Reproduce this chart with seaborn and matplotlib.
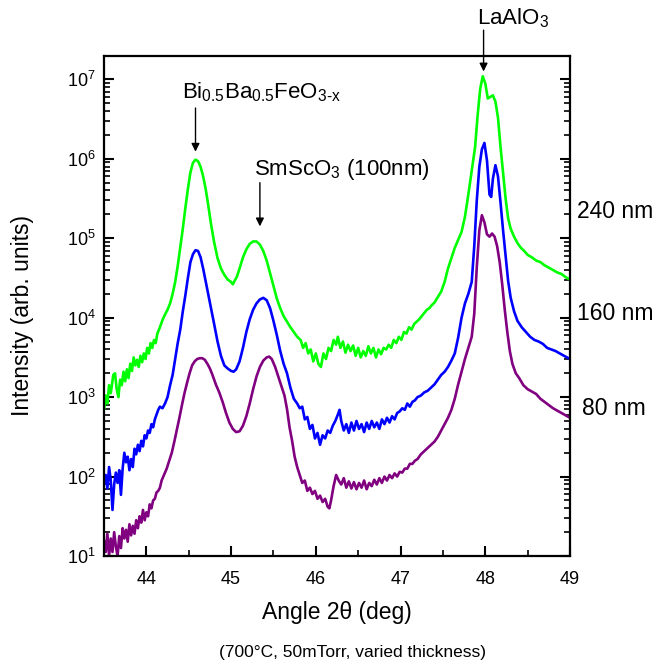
import numpy as np
import pandas as pd
import matplotlib
matplotlib.use("Agg")
import matplotlib.pyplot as plt
import seaborn as sns
from matplotlib.ticker import MultipleLocator, LogLocator

# ---------------- data (intensities given as log10) ----
x_240 = [43.50, 43.52, 43.54, 43.56, 43.58, 43.61, 43.63, 43.65, 43.67, 43.69, 43.71, 43.73, 43.75, 43.77,
         43.79, 43.81, 43.83, 43.85, 43.87, 43.89, 43.91, 43.93, 43.95, 43.97, 43.99, 44.01, 44.03, 44.05,
         44.07, 44.09, 44.11, 44.13, 44.16, 44.19, 44.22, 44.25, 44.28, 44.31, 44.34, 44.37, 44.40, 44.43,
         44.46, 44.49, 44.52, 44.55, 44.58, 44.61, 44.64, 44.67, 44.70, 44.73, 44.76, 44.80, 44.84, 44.88,
         44.92, 44.96, 45.00, 45.02, 45.04, 45.07, 45.10, 45.14, 45.18, 45.22, 45.26, 45.30, 45.34, 45.38,
         45.42, 45.46, 45.50, 45.54, 45.58, 45.62, 45.66, 45.70, 45.74, 45.78, 45.82, 45.85, 45.88, 45.91,
         45.94, 45.97, 46.00, 46.03, 46.06, 46.09, 46.12, 46.15, 46.18, 46.21, 46.24, 46.26, 46.29, 46.32,
         46.35, 46.38, 46.41, 46.44, 46.47, 46.50, 46.53, 46.56, 46.59, 46.62, 46.65, 46.68, 46.71, 46.74,
         46.77, 46.80, 46.83, 46.86, 46.89, 46.92, 46.95, 46.98, 47.01, 47.04, 47.07, 47.10, 47.13, 47.16,
         47.19, 47.22, 47.25, 47.28, 47.31, 47.34, 47.37, 47.40, 47.44, 47.48, 47.52, 47.56, 47.60, 47.64,
         47.68, 47.72, 47.76, 47.80, 47.84, 47.88, 47.91, 47.94, 47.97, 48.00, 48.03, 48.06, 48.09, 48.12,
         48.15, 48.18, 48.21, 48.24, 48.27, 48.30, 48.34, 48.38, 48.42, 48.46, 48.50, 48.55, 48.60, 48.65,
         48.70, 48.75, 48.80, 48.85, 48.90, 48.95, 49.00]
log_240 = [2.84, 3.02, 2.92, 3.15, 3.05, 3.28, 3.30, 3.10, 3.00, 3.22, 3.15, 3.32, 3.20, 3.35,
           3.24, 3.42, 3.33, 3.50, 3.40, 3.47, 3.38, 3.52, 3.44, 3.55, 3.48, 3.62, 3.55, 3.68,
           3.62, 3.72, 3.68, 3.80, 3.88, 3.97, 4.04, 4.10, 4.18, 4.30, 4.45, 4.65, 4.88, 5.12,
           5.38, 5.62, 5.83, 5.95, 5.99, 5.97, 5.90, 5.78, 5.62, 5.42, 5.20, 4.95, 4.75, 4.62,
           4.54, 4.48, 4.45, 4.42, 4.46, 4.52, 4.62, 4.76, 4.86, 4.93, 4.96, 4.96, 4.92, 4.84,
           4.72, 4.56, 4.40, 4.24, 4.12, 4.02, 3.95, 3.88, 3.82, 3.76, 3.72, 3.62, 3.68, 3.55,
           3.60, 3.45, 3.55, 3.42, 3.38, 3.55, 3.48, 3.62, 3.58, 3.72, 3.66, 3.76, 3.62, 3.70,
           3.56, 3.66, 3.58, 3.65, 3.52, 3.62, 3.50, 3.58, 3.52, 3.64, 3.55, 3.62, 3.50, 3.60,
           3.54, 3.62, 3.60, 3.66, 3.62, 3.72, 3.68, 3.76, 3.72, 3.82, 3.80, 3.88, 3.85, 3.92,
           3.95, 3.98, 4.02, 4.06, 4.10, 4.12, 4.16, 4.19, 4.26, 4.33, 4.45, 4.62, 4.75, 4.88,
           4.98, 5.08, 5.27, 5.55, 5.85, 6.15, 6.55, 6.88, 7.04, 6.95, 6.76, 6.78, 6.80, 6.72,
           6.52, 6.15, 5.82, 5.50, 5.25, 5.12, 5.02, 4.94, 4.88, 4.84, 4.79, 4.76, 4.72, 4.70,
           4.66, 4.63, 4.60, 4.57, 4.55, 4.51, 4.48]

x_160 = [43.50, 43.52, 43.54, 43.56, 43.58, 43.60, 43.62, 43.64, 43.66, 43.68, 43.70, 43.72, 43.74, 43.76,
         43.78, 43.80, 43.82, 43.84, 43.86, 43.88, 43.90, 43.92, 43.94, 43.96, 43.98, 44.00, 44.02, 44.04,
         44.06, 44.08, 44.10, 44.12, 44.14, 44.16, 44.19, 44.22, 44.25, 44.28, 44.31, 44.34, 44.37, 44.40,
         44.43, 44.46, 44.49, 44.52, 44.55, 44.58, 44.61, 44.64, 44.67, 44.70, 44.73, 44.76, 44.80, 44.84,
         44.88, 44.92, 44.96, 45.00, 45.03, 45.06, 45.10, 45.14, 45.18, 45.22, 45.26, 45.30, 45.34, 45.38,
         45.42, 45.46, 45.50, 45.54, 45.58, 45.62, 45.66, 45.70, 45.74, 45.78, 45.81, 45.84, 45.87, 45.90,
         45.93, 45.96, 45.99, 46.02, 46.05, 46.08, 46.11, 46.14, 46.17, 46.20, 46.23, 46.26, 46.28, 46.30,
         46.33, 46.36, 46.39, 46.42, 46.45, 46.48, 46.51, 46.54, 46.57, 46.60, 46.63, 46.66, 46.69, 46.72,
         46.75, 46.78, 46.81, 46.84, 46.87, 46.90, 46.93, 46.96, 46.99, 47.02, 47.05, 47.08, 47.11, 47.14,
         47.17, 47.20, 47.24, 47.28, 47.32, 47.36, 47.40, 47.44, 47.48, 47.52, 47.56, 47.60, 47.64, 47.68,
         47.72, 47.76, 47.80, 47.84, 47.87, 47.90, 47.93, 47.96, 47.99, 48.02, 48.05, 48.07, 48.09, 48.12,
         48.15, 48.18, 48.21, 48.24, 48.27, 48.30, 48.34, 48.38, 48.43, 48.48, 48.53, 48.58, 48.63, 48.68,
         48.73, 48.78, 48.83, 48.88, 48.93, 49.00]
log_160 = [1.90, 2.02, 1.85, 2.12, 1.95, 1.58, 1.90, 2.05, 1.92, 2.08, 1.77, 2.10, 2.30, 2.18,
           2.25, 2.08, 2.22, 2.12, 2.35, 2.28, 2.40, 2.32, 2.45, 2.38, 2.52, 2.48, 2.58, 2.55,
           2.66, 2.62, 2.72, 2.78, 2.84, 2.88, 2.86, 2.92, 3.00, 3.15, 3.28, 3.48, 3.68, 3.85,
           4.08, 4.28, 4.50, 4.70, 4.80, 4.85, 4.84, 4.76, 4.62, 4.46, 4.30, 4.14, 3.92, 3.70,
           3.52, 3.40, 3.36, 3.33, 3.32, 3.35, 3.45, 3.62, 3.82, 3.98, 4.10, 4.18, 4.23, 4.25,
           4.22, 4.12, 3.96, 3.78, 3.58, 3.42, 3.30, 3.12, 2.98, 2.92, 2.86, 2.88, 2.72, 2.75,
           2.60, 2.65, 2.48, 2.55, 2.40, 2.52, 2.48, 2.58, 2.55, 2.64, 2.70, 2.78, 2.84, 2.70,
           2.58, 2.66, 2.55, 2.68, 2.58, 2.70, 2.60, 2.66, 2.56, 2.68, 2.60, 2.70, 2.62, 2.68,
           2.60, 2.72, 2.66, 2.74, 2.68, 2.76, 2.72, 2.80, 2.82, 2.86, 2.84, 2.92, 2.88, 2.94,
           2.96, 3.00, 3.02, 3.06, 3.08, 3.12, 3.16, 3.22, 3.28, 3.32, 3.38, 3.46, 3.55, 3.75,
           4.00, 4.18, 4.30, 4.45, 4.90, 5.48, 5.90, 6.12, 6.20, 5.98, 5.55, 5.52, 5.75, 5.92,
           5.78, 5.45, 5.10, 4.78, 4.46, 4.25, 4.08, 3.96, 3.88, 3.82, 3.76, 3.72, 3.70, 3.67,
           3.62, 3.60, 3.58, 3.55, 3.52, 3.48]

x_80 = [43.50, 43.52, 43.54, 43.56, 43.58, 43.60, 43.62, 43.64, 43.66, 43.68, 43.70, 43.72, 43.74, 43.76,
        43.78, 43.80, 43.82, 43.84, 43.86, 43.88, 43.90, 43.92, 43.94, 43.96, 43.98, 44.00, 44.02, 44.04,
        44.06, 44.08, 44.10, 44.12, 44.14, 44.16, 44.18, 44.20, 44.22, 44.24, 44.27, 44.30, 44.33, 44.36,
        44.39, 44.42, 44.45, 44.48, 44.51, 44.54, 44.57, 44.60, 44.63, 44.66, 44.69, 44.72, 44.75, 44.78,
        44.82, 44.86, 44.90, 44.94, 44.98, 45.02, 45.06, 45.10, 45.14, 45.18, 45.22, 45.26, 45.30, 45.34,
        45.38, 45.42, 45.45, 45.48, 45.52, 45.56, 45.60, 45.63, 45.66, 45.69, 45.72, 45.75, 45.78, 45.81,
        45.84, 45.87, 45.90, 45.93, 45.96, 45.99, 46.02, 46.05, 46.08, 46.11, 46.14, 46.16, 46.18, 46.21,
        46.24, 46.27, 46.30, 46.33, 46.36, 46.39, 46.42, 46.45, 46.48, 46.51, 46.54, 46.57, 46.60, 46.63,
        46.66, 46.69, 46.72, 46.75, 46.78, 46.81, 46.84, 46.87, 46.90, 46.93, 46.96, 46.99, 47.02, 47.05,
        47.08, 47.11, 47.14, 47.17, 47.20, 47.24, 47.28, 47.32, 47.36, 47.40, 47.44, 47.48, 47.52, 47.56,
        47.60, 47.64, 47.68, 47.72, 47.76, 47.80, 47.84, 47.87, 47.90, 47.93, 47.96, 47.99, 48.02, 48.05,
        48.08, 48.11, 48.14, 48.17, 48.20, 48.23, 48.26, 48.29, 48.32, 48.36, 48.40, 48.45, 48.50, 48.55,
        48.60, 48.65, 48.70, 48.75, 48.80, 48.85, 48.90, 48.95, 49.00]
log_80 = [1.20, 1.05, 1.28, 1.00, 1.22, 1.05, 1.30, 1.12, 1.00, 1.25, 1.10, 1.35, 1.22, 1.33,
          1.18, 1.40, 1.26, 1.38, 1.28, 1.45, 1.35, 1.50, 1.42, 1.58, 1.45, 1.55, 1.50, 1.65,
          1.60, 1.70, 1.72, 1.80, 1.82, 1.86, 1.95, 2.00, 2.05, 2.10, 2.20, 2.30, 2.44, 2.59,
          2.74, 2.90, 3.05, 3.18, 3.30, 3.40, 3.45, 3.48, 3.49, 3.49, 3.47, 3.42, 3.36, 3.28,
          3.16, 3.06, 2.94, 2.80, 2.68, 2.60, 2.56, 2.57, 2.64, 2.76, 2.92, 3.10, 3.26, 3.38,
          3.46, 3.50, 3.51, 3.48, 3.38, 3.25, 3.12, 3.02, 2.85, 2.62, 2.45, 2.25, 2.12, 2.02,
          1.92, 1.95, 1.82, 1.86, 1.78, 1.82, 1.72, 1.76, 1.68, 1.72, 1.62, 1.60, 1.70, 1.88,
          2.02, 1.95, 1.90, 1.98, 1.86, 1.94, 1.85, 1.93, 1.84, 1.92, 1.86, 1.95, 1.84, 1.92,
          1.88, 1.96, 1.90, 1.98, 1.92, 2.00, 1.95, 2.02, 1.98, 2.04, 2.00, 2.06, 2.05, 2.10,
          2.10, 2.16, 2.16, 2.20, 2.22, 2.28, 2.32, 2.36, 2.40, 2.44, 2.50, 2.58, 2.66, 2.74,
          2.84, 2.98, 3.16, 3.32, 3.48, 3.62, 3.76, 4.05, 4.64, 5.10, 5.29, 5.20, 5.05, 5.02,
          5.06, 5.02, 4.90, 4.70, 4.42, 4.10, 3.82, 3.58, 3.42, 3.30, 3.24, 3.15, 3.10, 3.07,
          3.04, 2.98, 2.94, 2.90, 2.86, 2.83, 2.80, 2.77, 2.74]

series_names = ["240 nm", "160 nm", "80 nm"]
series_colors = ["#00ff00", "#0000ff", "#800080"]
x_ticks = [44, 45, 46, 47, 48, 49]

# ---------------- build long table ----------------
frames = []
for name, xs, ls in zip(series_names, [x_240, x_160, x_80], [log_240, log_160, log_80]):
    frames.append(pd.DataFrame({"angle": xs, "intensity": 10.0 ** np.asarray(ls), "film": name}))
df = pd.concat(frames, ignore_index=True)

# ---------------- style ----------------
sns.set_theme(style="ticks")
plt.rcParams["font.family"] = ["Liberation Sans", "DejaVu Sans"]
plt.rcParams["mathtext.fontset"] = "custom"
plt.rcParams["mathtext.rm"] = "Liberation Sans"
plt.rcParams["mathtext.it"] = "Liberation Sans:italic"
plt.rcParams["mathtext.bf"] = "Liberation Sans:bold"

fig = plt.figure(figsize=(6.6, 6.68), dpi=100)
ax = fig.add_axes([104 / 660, 1 - 556 / 668, 466 / 660, 500.5 / 668])

sns.lineplot(data=df, x="angle", y="intensity", hue="film", palette=dict(zip(series_names, series_colors)),
             estimator=None, sort=False, linewidth=1.9, legend=False, ax=ax)

ax.set_yscale("log")
ax.set_xlim(43.5, 49)
ax.set_ylim(10, 2e7)
ax.set_xticks(x_ticks)
ax.xaxis.set_minor_locator(MultipleLocator(0.5))
ax.yaxis.set_major_locator(LogLocator(base=10, numticks=20))
ax.yaxis.set_minor_locator(LogLocator(base=10, subs=np.arange(2, 10), numticks=20))

for sp in ax.spines.values():
    sp.set_linewidth(1.6)
    sp.set_color("black")
ax.tick_params(axis="both", which="major", direction="in", length=7, width=1.5, colors="black",
               labelsize=13)
ax.tick_params(axis="x", which="major", pad=11)
ax.tick_params(axis="y", which="major", pad=6)
ax.tick_params(axis="both", which="minor", direction="in", length=4, width=1.2, colors="black")
ax.tick_params(axis="y", which="both", right=True, labelright=False)
ax.tick_params(axis="x", which="both", top=False)

ax.set_xlabel("Angle 2θ (deg)", fontsize=16.5, color="black")
ax.set_ylabel("Intensity (arb. units)", fontsize=16.5, color="black")
ax.xaxis.set_label_coords(0.5, -0.09)
ax.yaxis.set_label_coords(-0.15, 0.48)

# ---------------- annotations ----------------
arrow = dict(arrowstyle="-|>", color="black", lw=1.0, mutation_scale=12, shrinkA=0, shrinkB=0)
ax.annotate("", xy=(44.58, 10 ** 6.09), xytext=(44.58, 10 ** 6.64), arrowprops=arrow)
ax.annotate("", xy=(45.34, 10 ** 5.15), xytext=(45.34, 10 ** 5.70), arrowprops=arrow)
ax.annotate("", xy=(47.98, 10 ** 7.10), xytext=(47.98, 10 ** 7.62), arrowprops=arrow,
            annotation_clip=False)

ax.text(44.42, 10 ** 6.756, r"Bi$_{\mathregular{0.5}}$Ba$_{\mathregular{0.5}}$FeO$_{\mathregular{3\text{-}x}}$",
        fontsize=16, ha="left", va="baseline", color="black")
ax.text(45.27, 10 ** 5.80, r"SmScO$_{\mathregular{3}}$ (100nm)", fontsize=16, ha="left", va="baseline",
        color="black")
ax.text(47.90, 10 ** 7.69, r"LaAlO$_{\mathregular{3}}$", fontsize=16, ha="left", va="baseline",
        color="black", clip_on=False)

label_pos = [(1.0144, 0.675), (1.0144, 0.4715), (1.025, 0.2817)]
for name, (lx, ly) in zip(series_names, label_pos):
    ax.text(lx, ly, name, transform=ax.transAxes, fontsize=16.5, ha="left", va="baseline", color="black")

fig.text(353 / 660, 1 - 653 / 668, "(700°C, 50mTorr, varied thickness)", fontsize=12.5,
         ha="center", va="center", color="black")

fig.savefig("out.png", dpi=100)
